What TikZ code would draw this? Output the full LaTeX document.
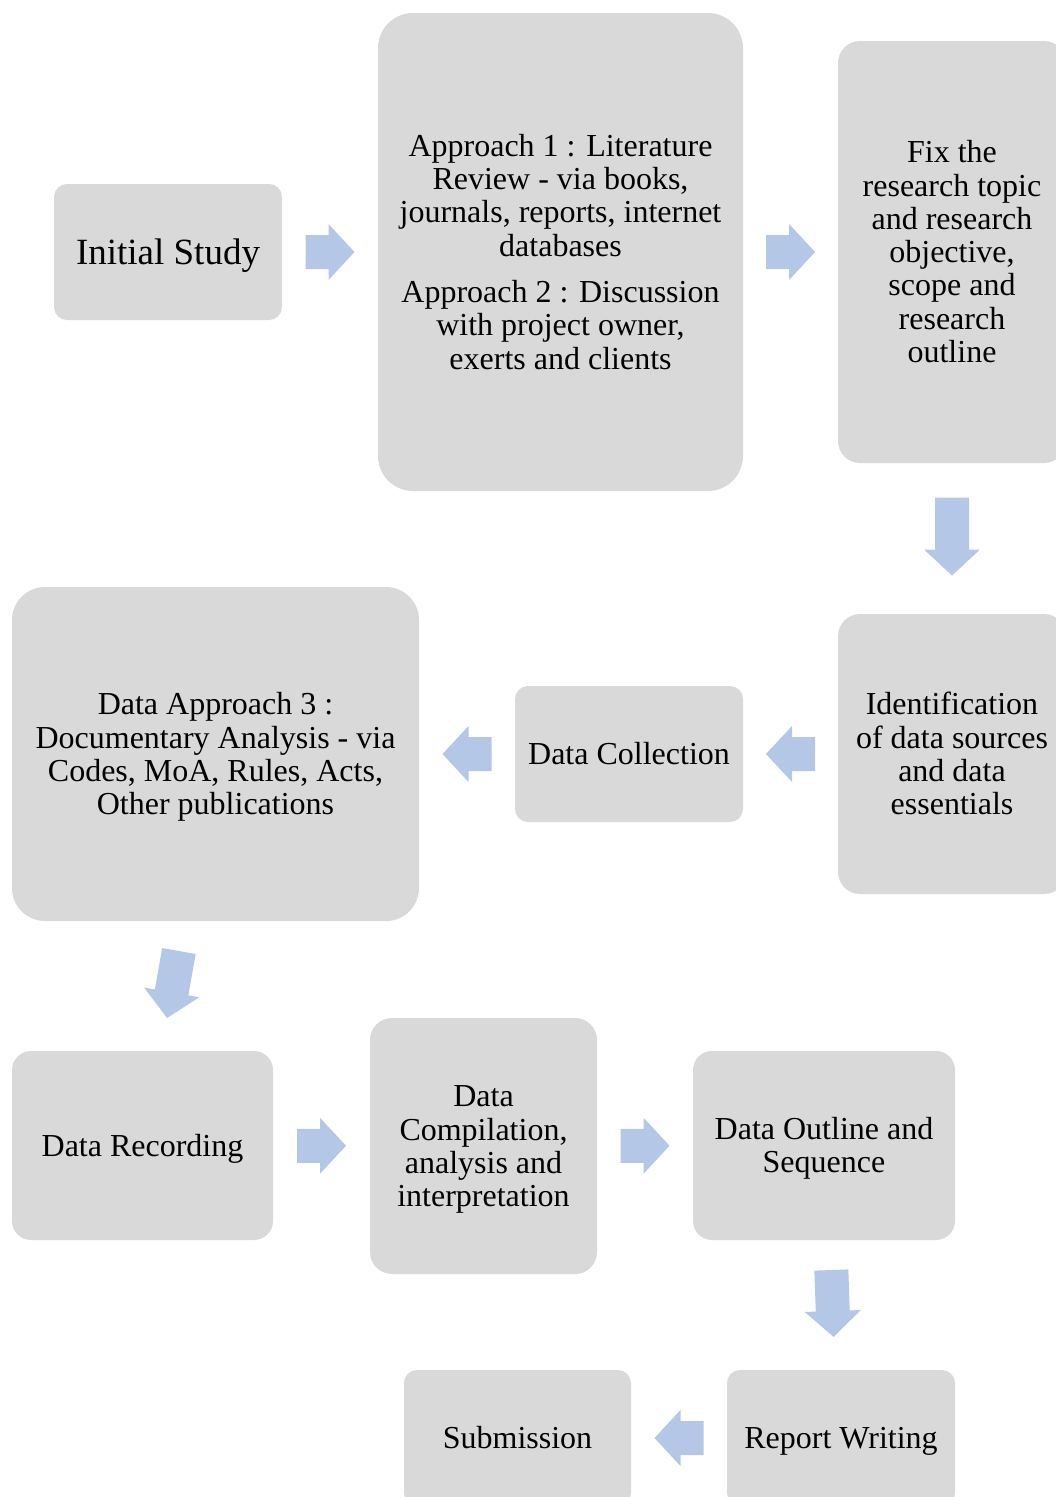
\documentclass[tikz,border=0pt]{standalone}
\usepackage{fontspec}
\setmainfont{Liberation Serif}
\usetikzlibrary{calc}
\definecolor{boxgray}{RGB}{217,217,217}
\definecolor{arrowblue}{RGB}{180,199,231}
\newcommand\tstr{\rule{0pt}{31.3pt}}
\begin{document}
\begin{tikzpicture}[x=1pt,y=-1pt,
  box/.style={fill=boxgray, draw=none, align=center, inner sep=0pt,
    font=\fontsize{32}{33.3}\selectfont},
  pics/barrow/.style={code={
    \pgfmathsetmacro\halfL{#1/2}
    \pgfmathsetmacro\hs{#1/2-26}
    \fill[arrowblue] (-\halfL,-17) -- (\hs,-17) -- (\hs,-28) -- (\halfL,0)
       -- (\hs,28) -- (\hs,17) -- (-\halfL,17) -- cycle;}}
]
\useasboundingbox (0,0) rectangle (1056,1497);

\node[box, minimum width=228pt, minimum height=136pt, rounded corners=13pt,
  font=\fontsize{37}{42}\selectfont] (init) at (168,252) {\rule{0pt}{37.4pt}\strut Initial Study\strut};
\node[box, minimum width=365pt, minimum height=478pt, rounded corners=35pt] (appr) at (560.5,252)
  {\tstr\strut Approach 1 : Literature\\ Review - via books,\\ journals, reports, internet\\ databases\\[13pt]
   Approach 2 : Discussion\\ with project owner,\\ exerts and clients\strut};
\node[box, minimum width=228pt, minimum height=422pt, rounded corners=22pt] (fix) at (952,252)
  {\tstr\strut Fix the\\ research topic\\ and research\\ objective,\\ scope and\\ research\\ outline\strut};
\node[box, minimum width=228pt, minimum height=280pt, rounded corners=22pt] (ident) at (952,754)
  {\tstr\strut Identification\\ of data sources\\ and data\\ essentials\strut};
\node[box, minimum width=228pt, minimum height=136pt, rounded corners=13pt] (coll) at (629,754)
  {\tstr\strut Data Collection\strut};
\node[box, minimum width=407pt, minimum height=334pt, rounded corners=33pt] (da3) at (215.5,754)
  {\tstr\strut Data Approach 3 :\\ Documentary Analysis - via\\ Codes, MoA, Rules, Acts,\\ Other publications\strut};
\node[box, minimum width=261pt, minimum height=189pt, rounded corners=19pt] (rec) at (142.5,1145.5)
  {\tstr\strut Data Recording\strut};
\node[box, minimum width=227pt, minimum height=256pt, rounded corners=22pt] (comp) at (483.5,1146)
  {\tstr\strut Data\\ Compilation,\\ analysis and\\ interpretation\strut};
\node[box, minimum width=262pt, minimum height=189pt, rounded corners=19pt] (outl) at (824,1145.5)
  {\tstr\strut Data Outline and\\ Sequence\strut};
\node[box, minimum width=228pt, minimum height=136pt, rounded corners=13pt] (rep) at (841,1438)
  {\tstr\strut Report Writing\strut};
\node[box, minimum width=227pt, minimum height=136pt, rounded corners=13pt] (sub) at (517.5,1438)
  {\tstr\strut Submission\strut};

\pic at ($(init.east)!0.5!(appr.west)$) {barrow=49};
\pic at ($(appr.east)!0.5!(fix.west)$) {barrow=49};
\pic[rotate=-90] at ($(fix.south)!0.5!(ident.north)+(0,-2)$) {barrow=78};
\pic[rotate=180] at ($(ident.west)!0.5!(coll.east)$) {barrow=49};
\pic[rotate=180] at ($(coll.west)!0.5!(da3.east)$) {barrow=49};
\pic[rotate=-100] at ($(da3.south)!0.5!(rec.north)+(-6,-1.5)$) {barrow=68};
\pic at ($(rec.east)!0.5!(comp.west)$) {barrow=49};
\pic at ($(comp.east)!0.5!(outl.west)$) {barrow=49};
\pic[rotate=-88] at ($(outl.south)!0.5!(rep.north)+(0,-1.5)$) {barrow=67};
\pic[rotate=180] at ($(rep.west)!0.5!(sub.east)$) {barrow=49};
\end{tikzpicture}
\end{document}
